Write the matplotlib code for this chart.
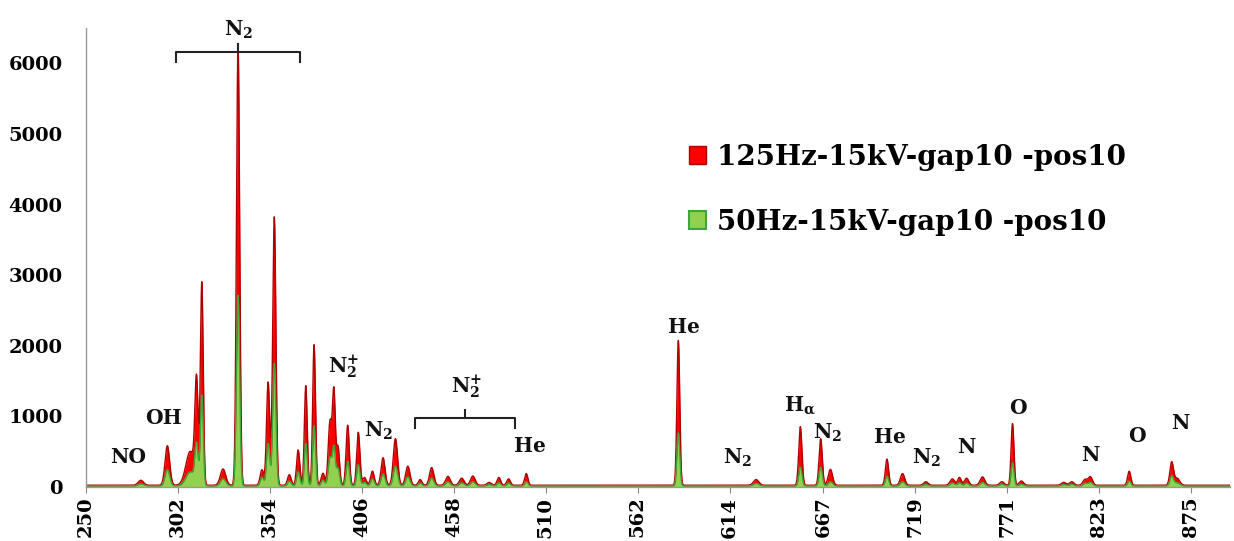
import numpy as np
import matplotlib
matplotlib.use("Agg")
import matplotlib.pyplot as plt
from matplotlib.patches import Patch

plt.rcParams["mathtext.fontset"] = "dejavuserif"

# ---- data ----
tick_labels = ["250", "302", "354", "406", "458", "510", "562", "614", "667", "719", "771", "823", "875"]
tick_values = [250, 302, 354, 406, 458, 510, 562, 614, 667, 719, 771, 823, 875]

# peak list: wavelength (nm), intensity of 125 Hz series, intensity of 50 Hz series, line width (nm)
peak_nm = [281, 296, 309, 312.5, 315.5, 327.5, 336, 349.5, 353, 356.5, 365, 370, 374.3, 379,
           384, 388, 390.2, 392.5, 398, 404, 407.5, 412, 418, 425, 432, 439, 445.5, 454.7,
           462.5, 468.8, 478, 483.5, 489, 499, 585, 629, 654, 665.5, 671, 703, 711.8, 725,
           740, 744, 748, 757, 768, 774, 779, 803, 807.5, 815, 818, 840, 864, 867]
red_counts = [70, 560, 480, 1390, 2860, 230, 6250, 220, 1460, 3800, 150, 500, 1410, 1990,
              170, 900, 1290, 540, 850, 750, 110, 200, 390, 660, 270, 80, 250, 125,
              100, 130, 40, 110, 90, 165, 2050, 80, 830, 660, 225, 370, 165, 50,
              90, 110, 100, 118, 50, 873, 60, 40, 50, 80, 120, 198, 321, 100]
green_counts = [30, 230, 200, 550, 1280, 100, 2700, 120, 600, 1730, 70, 200, 600, 850,
                80, 400, 530, 250, 350, 300, 50, 100, 170, 280, 130, 40, 110, 60,
                45, 60, 20, 45, 40, 60, 750, 35, 265, 265, 60, 140, 60, 20,
                40, 45, 40, 50, 25, 330, 25, 20, 25, 35, 50, 70, 140, 45]
peak_width = [1.5, 1.3, 2.5, 0.9, 0.8, 1.5, 0.9, 1.0, 0.9, 0.9, 1.0, 0.9, 0.8, 0.8,
              1.0, 1.0, 0.8, 0.9, 0.9, 0.9, 1.0, 1.0, 1.1, 1.2, 1.2, 1.0, 1.2, 1.3,
              1.3, 1.3, 1.2, 1.0, 1.0, 0.9, 0.8, 1.5, 0.9, 0.9, 1.2, 0.9, 1.2, 1.2,
              1.3, 1.0, 1.2, 1.3, 1.2, 0.8, 1.2, 1.3, 1.2, 1.2, 1.2, 0.9, 1.0, 1.5]
red_baseline = 25
green_baseline = 15

series_names = ["125Hz-15kV-gap10 -pos10", "50Hz-15kV-gap10 -pos10"]

# ---- build spectra (line shape per peak) ----
wl = np.arange(250, 897.01, 0.1)
red = np.full_like(wl, red_baseline, dtype=float)
green = np.full_like(wl, green_baseline, dtype=float)
for p, r, g, w in zip(peak_nm, red_counts, green_counts, peak_width):
    shape = np.exp(-0.5 * ((wl - p) / w) ** 2)
    red += r * shape
    green += g * shape

# ---- figure ----
W, H, DPI = 1234, 541, 100
fig = plt.figure(figsize=(W / DPI, H / DPI), dpi=DPI)
ax = fig.add_axes([86 / W, 1 - 487 / H, (1230 - 86) / W, (487 - 28) / H])

FONT = "DejaVu Serif"
ax.fill_between(wl, 0, red, color="#ff0000", lw=0)
ax.plot(wl, red, color="#b00000", lw=1.0)
ax.fill_between(wl, 0, green, color="#92d050", lw=0)
ax.plot(wl, green, color="#3aa83a", lw=1.0)

ax.set_xlim(250, 897)
ax.set_ylim(0, 6500)
ax.set_yticks(range(0, 6001, 1000))
ax.set_yticklabels([str(v) for v in range(0, 6001, 1000)], fontfamily=FONT,
                   fontweight="bold", fontsize=14)
ax.set_xticks(tick_values)
ax.set_xticklabels(tick_labels, rotation=90, fontfamily=FONT, fontweight="bold", fontsize=14)
ax.tick_params(axis="y", length=0, pad=17)
ax.tick_params(axis="x", length=4, color="#888888", pad=3)
for s in ["top", "right"]:
    ax.spines[s].set_visible(False)
for s in ["left", "bottom"]:
    ax.spines[s].set_color("#999999")
    ax.spines[s].set_linewidth(1.0)

# ---- annotations ----
ann = dict(fontfamily=FONT, fontweight="bold", fontsize=14.5, ha="center", va="center",
           color="#111111")
def lbl(xpix, ypix, s, **kw):
    d = dict(ann); d.update(kw)
    fig.text(xpix / W, 1 - ypix / H, s, **d)

lbl(128, 457, "NO")
lbl(163, 418, "OH")
lbl(239, 30, r"N$_\mathbf{2}$")
lbl(343, 367, r"N$_\mathbf{2}^\mathbf{+}$")
lbl(379, 431, r"N$_\mathbf{2}$")
lbl(466, 387, r"N$_\mathbf{2}^\mathbf{+}$")
lbl(530, 446, "He")
lbl(684, 327, "He")
lbl(738, 458, r"N$_\mathbf{2}$")
lbl(800, 406, r"H$_\mathbf{\alpha}$")
lbl(828, 433, r"N$_\mathbf{2}$")
lbl(890, 437, "He")
lbl(927, 458, r"N$_\mathbf{2}$")
lbl(966, 447, "N")
lbl(1018, 408, "O")
lbl(1090, 455, "N")
lbl(1137, 436, "O")
lbl(1180, 423, "N")

# brackets (figure pixel coordinates)
def bracket(x0, x1, y, drop, rise):
    xm = (x0 + x1) / 2
    tr = fig.transFigure
    xs = [x0 / W, x0 / W, x1 / W, x1 / W]
    ys = [1 - (y + drop) / H, 1 - y / H, 1 - y / H, 1 - (y + drop) / H]
    fig.add_artist(plt.Line2D(xs, ys, transform=tr, color="#222222", lw=1.5,
                              solid_joinstyle="round"))
    fig.add_artist(plt.Line2D([xm / W, xm / W], [1 - y / H, 1 - (y - rise) / H],
                              transform=tr, color="#222222", lw=1.5))

bracket(176, 300, 52, 10, 8)
bracket(415, 515, 418, 10, 8)

# ---- legend ----
handles = [Patch(facecolor="#ff0000", edgecolor="#b00000", lw=1.0),
           Patch(facecolor="#92d050", edgecolor="#3aa83a", lw=1.5)]
leg = fig.legend(handles, series_names, loc="upper left",
                 bbox_to_anchor=(664 / W, 1 - 119 / H), frameon=False,
                 prop=dict(family=FONT, weight="bold", size=20),
                 handlelength=0.6, handleheight=0.6, handletextpad=0.4,
                 labelspacing=1.35)

fig.savefig("out.png", dpi=DPI)
